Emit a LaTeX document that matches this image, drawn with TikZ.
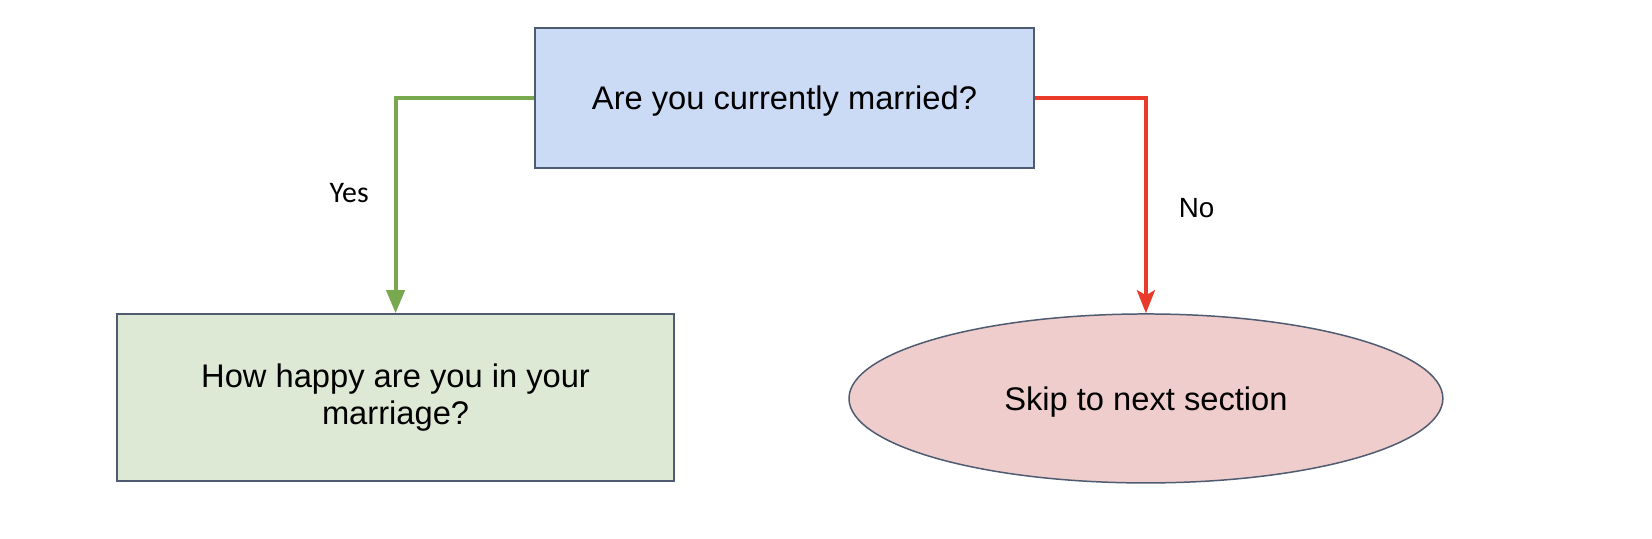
\documentclass[tikz,border=0pt]{standalone}
\usepackage{fontspec}
\setmainfont{Liberation Sans}
\newfontfamily\calibri{Carlito}
\usepackage{tikz}
\usetikzlibrary{arrows.meta, shapes, positioning}
\definecolor{boxblue}{HTML}{CBDAF5}
\definecolor{boxgreen}{HTML}{DDE8D5}
\definecolor{boxpink}{HTML}{EECDCC}
\definecolor{edgegray}{HTML}{4F5B70}
\definecolor{yesgreen}{HTML}{78A94F}
\definecolor{nored}{HTML}{EA3A2A}

\begin{document}
\begin{tikzpicture}[x=0.02cm,y=-0.02cm,node distance=2cm,on grid,
    question/.style={draw=edgegray,line width=0.85pt,inner sep=0pt,align=center,
      font=\fontsize{18.6}{21.5}\selectfont},
    yes/.style={yesgreen,line width=2.2pt,-{Triangle[length=0.46cm,width=0.36cm]}},
    no/.style={nored,line width=2.2pt,-{Stealth[length=0.46cm,width=0.36cm,inset=0.1cm]}}]

      \useasboundingbox (0,0) rectangle (1652,538);

      \node[question,fill=boxblue,minimum width=9.98cm,minimum height=2.8cm,text depth=0pt]
            (married) at (784.5,98) {Are you currently married?};
      \node[question,fill=boxgreen,minimum width=11.14cm,minimum height=3.34cm]
            (happy) [below left=5.99cm and 7.78cm of married] {How happy are you in your\\marriage?};
      \node[question,ellipse,fill=boxpink,minimum width=11.88cm,minimum height=3.38cm,text depth=0pt]
            (skip) [below right=6.01cm and 7.23cm of married] {Skip to next section};

      \draw[yes] (married.west) -| (happy.north)
            node[pos=0.72,left=0.5cm,inner sep=0pt,black,font=\calibri\fontsize{17}{20}\selectfont] {Yes};
      \draw[no] (married.east) -| (skip.north)
            node[pos=0.755,right=0.62cm,inner sep=0pt,black,font=\fontsize{15.8}{19}\selectfont] {No};
    \end{tikzpicture}
\end{document}
